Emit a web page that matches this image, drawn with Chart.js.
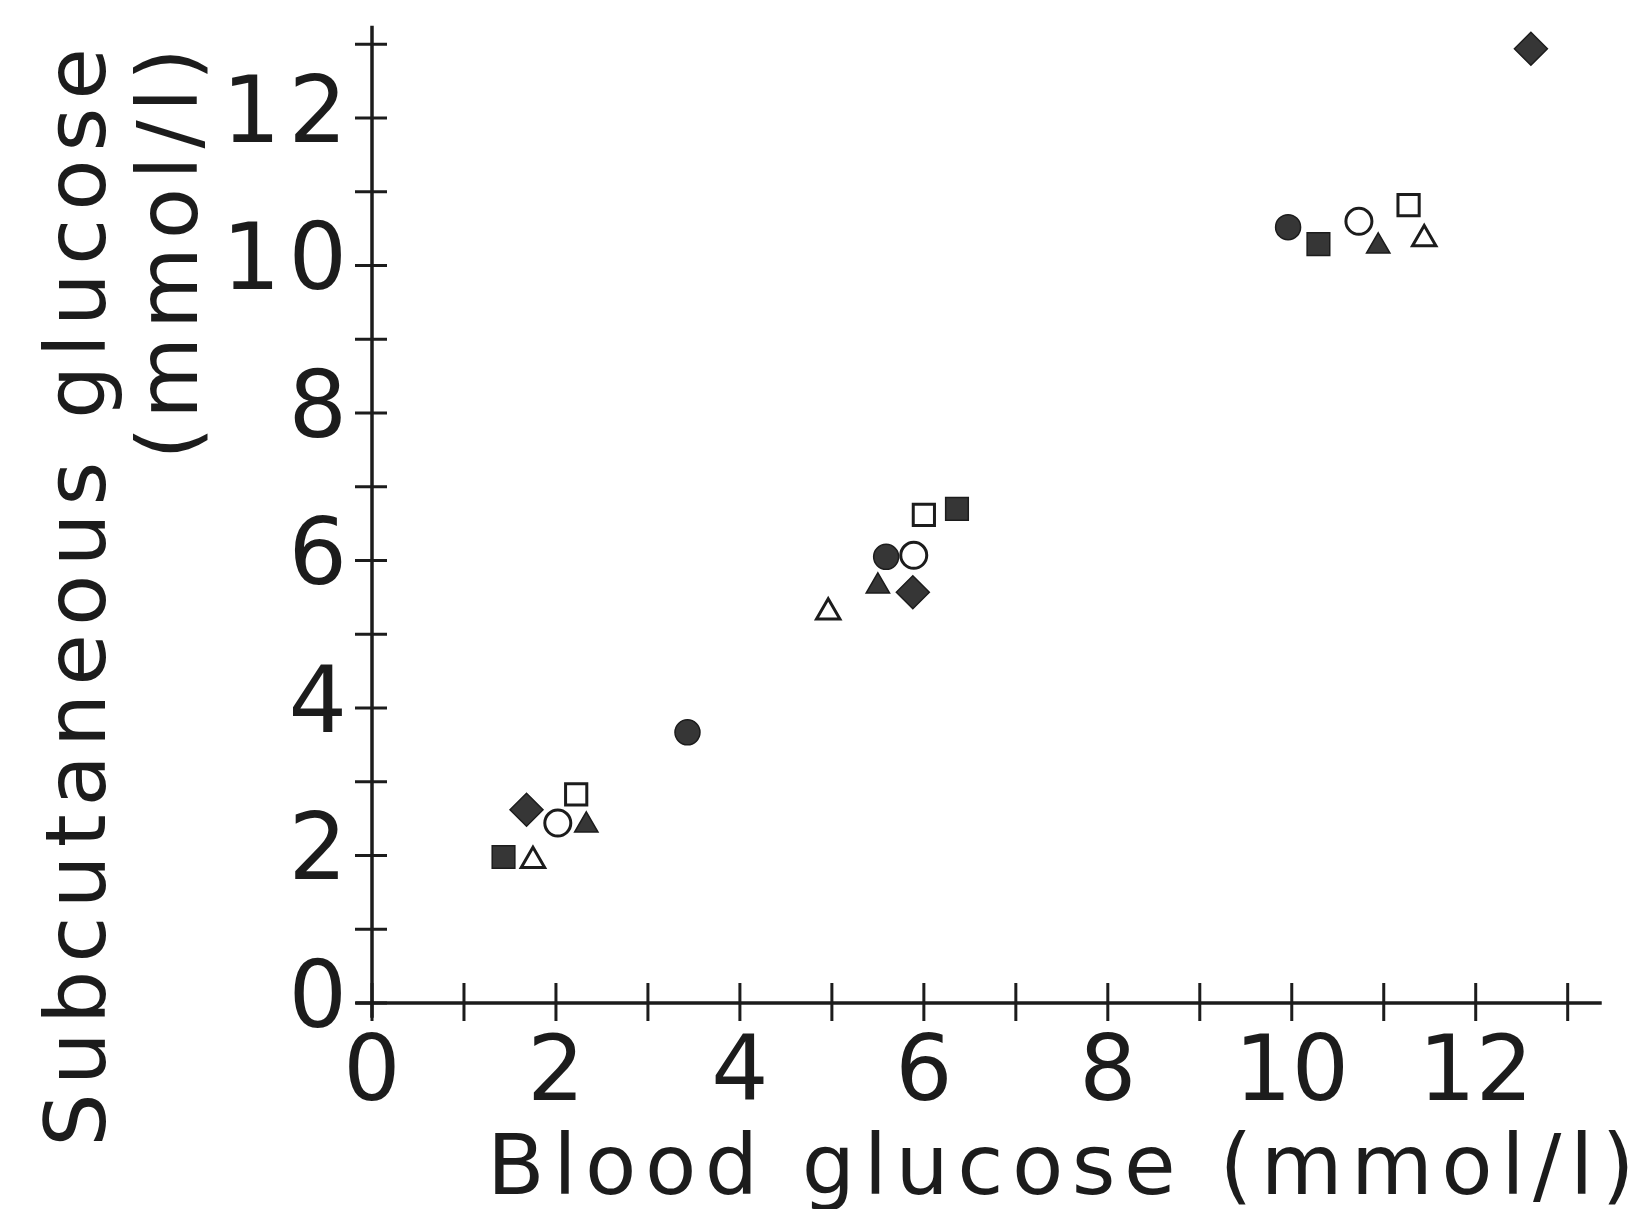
<!DOCTYPE html>
<html>
<head>
<meta charset="utf-8">
<script src="https://cdn.jsdelivr.net/npm/chart.js@4"></script>
<style>
  html, body { margin: 0; padding: 0; background: #ffffff; }
  #c { display: block; }
</style>
</head>
<body>
<canvas id="c" width="1633" height="1209"></canvas>
<script>
// ---- data ----
const filledCircleX   = [3.43, 5.59, 9.96];
const filledCircleY   = [3.67, 6.05, 10.52];
const openCircleX     = [2.02, 5.89, 10.73];
const openCircleY     = [2.44, 6.07, 10.60];
const filledSquareX   = [1.43, 6.36, 10.29];
const filledSquareY   = [1.98, 6.70, 10.29];
const openSquareX     = [2.22, 6.00, 11.27];
const openSquareY     = [2.83, 6.62, 10.82];
const filledTriangleX = [2.33, 5.50, 10.94];
const filledTriangleY = [2.41, 5.65, 10.26];
const openTriangleX   = [1.75, 4.96, 11.44];
const openTriangleY   = [1.93, 5.30, 10.36];
const filledDiamondX  = [1.68, 5.88, 12.60];
const filledDiamondY  = [2.62, 5.57, 12.94];

// ---- axis labels / ticks ----
const xLabelValues = [0, 2, 4, 6, 8, 10, 12];
const yLabelValues = [0, 2, 4, 6, 8, 10, 12];
const xTickMarks = [0, 1, 2, 3, 4, 5, 6, 7, 8, 9, 10, 11, 12, 13];
const yTickMarks = [0, 1, 2, 3, 4, 5, 6, 7, 8, 9, 10, 11, 12, 13];
const xTitle = 'Blood glucose (mmol/l)';
const yTitle = ['Subcutaneous glucose', '(mmol/l)'];

const INK = '#1c1c1c';
const FILL = '#363636';

function pts(xs, ys) { return xs.map((x, i) => ({ x: x, y: ys[i] })); }

function ds(label, xs, ys, style, filled, radius) {
  return {
    label: label,
    data: pts(xs, ys),
    pointStyle: style,
    pointRadius: radius,
    pointHoverRadius: radius,
    backgroundColor: filled ? FILL : '#ffffff',
    borderColor: INK,
    pointBorderWidth: filled ? 1.5 : 3,
    borderWidth: filled ? 1.5 : 3,
    showLine: false,
    clip: false
  };
}

const datasets = [
  ds('filled circle', filledCircleX, filledCircleY, 'circle', true, 12.5),
  ds('open circle', openCircleX, openCircleY, 'circle', false, 13),
  ds('filled square', filledSquareX, filledSquareY, 'rect', true, 16),
  ds('open square', openSquareX, openSquareY, 'rect', false, 15),
  ds('filled triangle', filledTriangleX, filledTriangleY, 'triangle', true, 13.5),
  ds('open triangle', openTriangleX, openTriangleY, 'triangle', false, 13.5),
  ds('filled diamond', filledDiamondX, filledDiamondY, 'rectRot', true, 16.5)
];

const XTITLE_SPACING = '8.5px';
const YTITLE_SPACING = '8px';
const YTICK_SPACING = '8px';

// letter spacing (and a small nudge that undoes the trailing spacing of end-aligned titles)
function withSpacing(fn, spacing, dx, dy) {
  return function () {
    const c = this.ctx;
    const prev = c.letterSpacing;
    c.save();
    c.translate(dx || 0, dy || 0);
    c.letterSpacing = spacing;
    fn.apply(this, arguments);
    c.letterSpacing = prev || '0px';
    c.restore();
  };
}

function noPad(s) {
  s.paddingTop = 0; s.paddingBottom = 0; s.paddingLeft = 0; s.paddingRight = 0;
}

const crossAxes = {
  id: 'crossAxes',
  afterLayout(chart) {
    Object.values(chart.scales).forEach(s => {
      if (s.__spaced) return;
      if (s.axis === 'y') {
        s.drawTitle = withSpacing(s.drawTitle, YTITLE_SPACING, 0, -7);
        s.drawLabels = withSpacing(s.drawLabels, YTICK_SPACING, 0, 0);
      } else {
        s.drawTitle = withSpacing(s.drawTitle, XTITLE_SPACING, 10, 0);
      }
      s.__spaced = true;
    });
  },
  beforeDatasetsDraw(chart) {
    const { ctx, scales } = chart;
    const x = scales.x, y = scales.y;
    const x0 = x.getPixelForValue(0);
    const y0 = y.getPixelForValue(0);
    ctx.save();
    ctx.strokeStyle = INK;
    ctx.lineCap = 'butt';
    ctx.lineWidth = 3.5;
    ctx.beginPath();
    ctx.moveTo(x.getPixelForValue(-0.18), y0);
    ctx.lineTo(x.getPixelForValue(13.37), y0);
    ctx.moveTo(x0, y.getPixelForValue(-0.2));
    ctx.lineTo(x0, y.getPixelForValue(13.25));
    ctx.stroke();
    ctx.lineWidth = 3;
    ctx.beginPath();
    xTickMarks.forEach(v => {
      const p = x.getPixelForValue(v);
      ctx.moveTo(p, y0 - 20);
      ctx.lineTo(p, y0 + 18);
    });
    yTickMarks.forEach(v => {
      const p = y.getPixelForValue(v);
      ctx.moveTo(x0 - 17, p);
      ctx.lineTo(x0 + 15, p);
    });
    ctx.stroke();
    ctx.restore();
  }
};

new Chart(document.getElementById('c'), {
  type: 'scatter',
  data: { datasets: datasets },
  options: {
    responsive: false,
    animation: false,
    devicePixelRatio: 1,
    layout: { autoPadding: false, padding: { left: 0, right: 0, top: 47, bottom: 0 } },
    plugins: { legend: { display: false }, tooltip: { enabled: false } },
    scales: {
      x: {
        type: 'linear',
        min: 0,
        max: 13.71,
        grid: { display: false, drawTicks: false },
        border: { display: false },
        afterBuildTicks: s => { s.ticks = xLabelValues.map(v => ({ value: v })); },
        afterFit: s => { s.height = 206; noPad(s); },
        ticks: {
          padding: 29,
          color: INK,
          maxRotation: 0,
          autoSkip: false,
          font: { family: 'DejaVu Sans', size: 90, lineHeight: 1 },
          callback: v => String(v)
        },
        title: {
          display: true,
          text: xTitle,
          align: 'end',
          color: INK,
          padding: { top: 0, bottom: -5 },
          font: { family: 'DejaVu Sans', size: 84, lineHeight: 1 }
        }
      },
      y: {
        type: 'linear',
        min: 0,
        max: 12.963,
        grid: { display: false, drawTicks: false },
        border: { display: false },
        afterBuildTicks: s => { s.ticks = yLabelValues.map(v => ({ value: v })); },
        afterFit: s => { s.width = 372; noPad(s); },
        ticks: {
          padding: 17,
          color: INK,
          autoSkip: false,
          font: { family: 'DejaVu Sans', size: 92, lineHeight: 1 },
          callback: v => String(v)
        },
        title: {
          display: true,
          text: yTitle,
          align: 'end',
          color: INK,
          padding: { top: 37, bottom: 0 },
          font: { family: 'DejaVu Sans', size: 84, lineHeight: 1.1 }
        }
      }
    }
  },
  plugins: [crossAxes]
});
</script>
</body>
</html>
